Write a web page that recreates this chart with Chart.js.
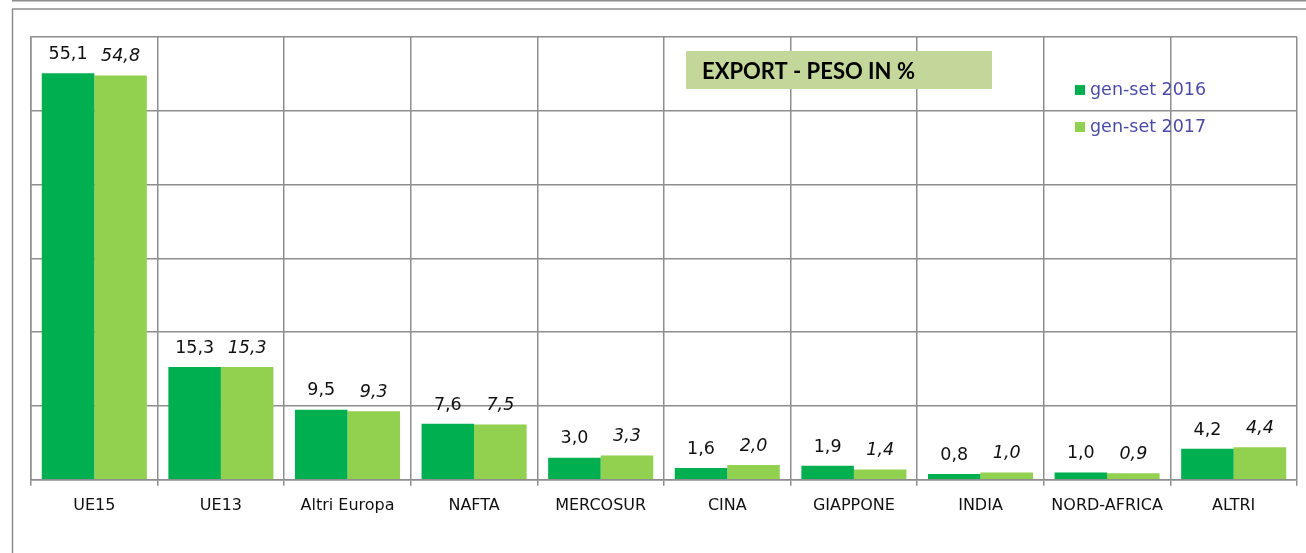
<!DOCTYPE html>
<html>
  <head>
    <title>Export - peso in %</title>
    <script src="https://cdn.jsdelivr.net/npm/chart.js"></script>
    <style>
      body { margin: 0; background: #fff; }
      #wrap { width: 1306px; height: 553px; }
    </style>
  </head>
  <body>
    <div id="wrap"><canvas id="exportChart"></canvas></div>
    <script>
      // categories and series
      const areas = ["UE15", "UE13", "Altri Europa", "NAFTA", "MERCOSUR", "CINA", "GIAPPONE", "INDIA", "NORD-AFRICA", "ALTRI"];
      const genset2016 = [55.1, 15.3, 9.5, 7.6, 3.0, 1.6, 1.9, 0.8, 1.0, 4.2];
      const genset2017 = [54.8, 15.3, 9.3, 7.5, 3.3, 2.0, 1.4, 1.0, 0.9, 4.4];
      const seriesNames = ["gen-set 2016", "gen-set 2017"];
      const chartTitle = "EXPORT - PESO IN %";

      const gridColor = "#8e8e8e";
      const darkGreen = "#00b050";
      const lightGreen = "#92d050";

      const fmt = (v) => v.toFixed(1).replace(".", ",");

      // frame lines around the chart
      const framePlugin = {
        id: "frame",
        beforeDraw(chart) {
          const { ctx, width, height } = chart;
          ctx.save();
          ctx.strokeStyle = gridColor;
          ctx.lineWidth = 1.5;
          ctx.beginPath();
          ctx.moveTo(12, 0.75);
          ctx.lineTo(width, 0.75);
          ctx.moveTo(12, 9);
          ctx.lineTo(width, 9);
          ctx.moveTo(12.5, 9);
          ctx.lineTo(12.5, height);
          ctx.stroke();
          ctx.restore();
        },
      };

      // value labels above the bars, title box and legend
      const overlayPlugin = {
        id: "overlay",
        afterDatasetsDraw(chart) {
          const { ctx } = chart;
          ctx.save();
          chart.data.datasets.forEach((ds, i) => {
            const meta = chart.getDatasetMeta(i);
            ctx.font = (i === 1 ? "italic " : "") + "17.5px 'DejaVu Sans'";
            ctx.fillStyle = "#111";
            ctx.textAlign = "center";
            ctx.textBaseline = "bottom";
            meta.data.forEach((bar, j) => {
              ctx.fillText(fmt(ds.data[j]), bar.x, bar.y - 10);
            });
          });

          // title box
          ctx.fillStyle = "#c4d79b";
          ctx.fillRect(686, 51, 306, 38);
          ctx.fillStyle = "#000";
          ctx.font = "bold 22px Lato";
          ctx.textAlign = "left";
          ctx.textBaseline = "middle";
          ctx.fillText(chartTitle, 702, 72);

          // legend
          const colors = [darkGreen, lightGreen];
          ctx.font = "17.5px 'DejaVu Sans'";
          seriesNames.forEach((name, i) => {
            const y = 90 + i * 37;
            ctx.fillStyle = colors[i];
            ctx.fillRect(1075, y - 5, 10, 10);
            ctx.fillStyle = "#4b4ba6";
            ctx.fillText(name, 1090, y);
          });
          ctx.restore();
        },
      };

      const ctx = document.getElementById("exportChart").getContext("2d");

      new Chart(ctx, {
        type: "bar",
        data: {
          labels: areas,
          datasets: [
            {
              label: seriesNames[0],
              data: genset2016,
              backgroundColor: darkGreen,
              categoryPercentage: 0.83,
              barPercentage: 1,
            },
            {
              label: seriesNames[1],
              data: genset2017,
              backgroundColor: lightGreen,
              categoryPercentage: 0.83,
              barPercentage: 1,
            },
          ],
        },
        options: {
          responsive: true,
          maintainAspectRatio: false,
          animation: false,
          layout: {
            padding: { top: 37, left: 31, right: 9, bottom: 28 },
          },
          scales: {
            x: {
              grid: { color: gridColor, lineWidth: 1.5, tickLength: 6 },
              border: { color: gridColor, width: 1.5 },
              ticks: {
                color: "#111",
                padding: 10,
                font: { family: "'DejaVu Sans'", size: 16 },
              },
            },
            y: {
              min: 0,
              max: 60,
              ticks: { stepSize: 10, display: false },
              grid: { color: gridColor, lineWidth: 1.5, drawTicks: false },
              border: { color: gridColor, width: 1.5 },
            },
          },
          plugins: {
            legend: { display: false },
            tooltip: { enabled: false },
          },
        },
        plugins: [framePlugin, overlayPlugin],
      });
    </script>
  </body>
</html>
